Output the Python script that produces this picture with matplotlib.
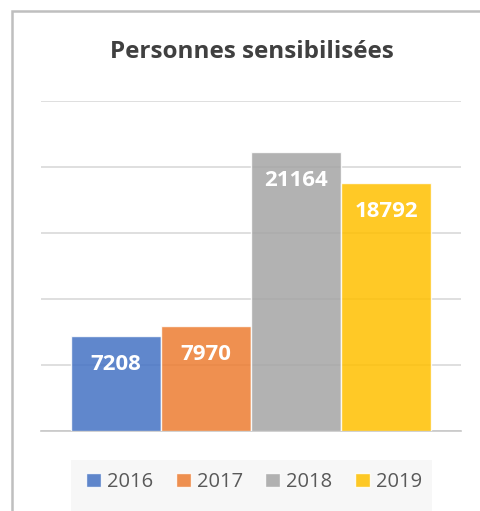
import numpy as np
import matplotlib.pyplot as plt
from matplotlib.patches import Rectangle

# data
years = ['2016', '2017', '2018', '2019']
personnes = [7208, 7970, 21164, 18792]
colors = ['#4472c4', '#ed7d31', '#a5a5a5', '#ffc000']

plt.rcParams['font.family'] = ['Open Sans', 'DejaVu Sans']

W, H = 480, 511
fig = plt.figure(figsize=(W / 100, H / 100), dpi=100)

# plot area: x 41..461 px, y 101..431 px
ax = fig.add_axes([41 / W, (H - 431) / H, 420 / W, 330 / H])

x = np.arange(len(years))
for i in range(len(years)):
  ax.bar(x[i], personnes[i], width=1.0, color=colors[i], alpha=0.85,
         edgecolor='white', linewidth=1.0, label=years[i], zorder=3)
  ax.annotate(str(personnes[i]), (x[i], personnes[i]), xytext=(0, -20.5),
              textcoords='offset points', ha='center', va='center',
              color='white', fontsize=16, fontweight='bold', zorder=4)

ax.set_xlim(-0.827, 3.827)
ax.set_ylim(0, 25000)
ax.set_yticks(np.arange(0, 25001, 5000))
ax.yaxis.grid(True, color='#d9d9d9', linewidth=1.2, zorder=0)
ax.set_xticks([])
ax.tick_params(axis='y', length=0, labelleft=False)
for s in ['top', 'right', 'left']:
  ax.spines[s].set_visible(False)
ax.spines['bottom'].set_color('#c8c8c8')
ax.spines['bottom'].set_linewidth(1.2)
ax.set_facecolor('none')

# title
fig.text(251.5 / W, (H - 52) / H, 'Personnes sensibilisées', ha='center', va='center',
         fontsize=17.5, fontweight='bold', color='#404040')

# outer border (top and left edges visible)
fig.add_artist(Rectangle((12 / W, -0.1), 1.0, (H - 11.5) / H + 0.1,
                         transform=fig.transFigure, facecolor='none',
                         edgecolor='#bfbfbf', linewidth=1.8))

# legend background
fig.add_artist(Rectangle((71 / W, 0), (432 - 71) / W, (H - 460) / H,
                         transform=fig.transFigure, facecolor='#f7f7f7',
                         edgecolor='none', zorder=0))

leg = fig.legend(loc='center', bbox_to_anchor=(254 / W, (H - 482) / H), ncol=4,
                 frameon=False, fontsize=14.5, handlelength=0.75, handleheight=0.75,
                 handletextpad=0.3, columnspacing=1.1, labelcolor='#595959')

fig.savefig('out.png', dpi=100)
